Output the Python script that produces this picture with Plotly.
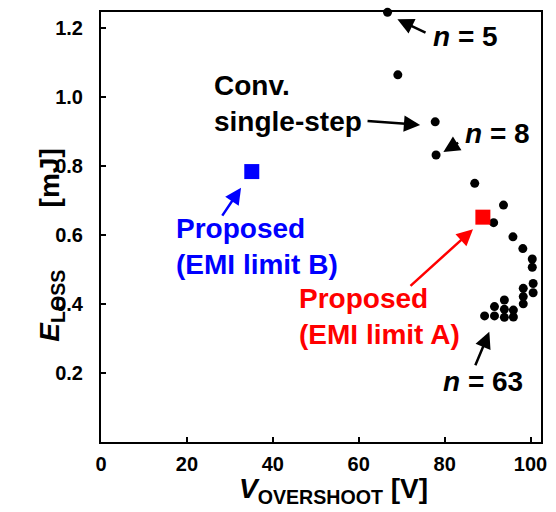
import plotly.graph_objects as go

# Conventional single-step points (V_overshoot [V], E_loss [mJ])
conv_v = [66.7, 69.1, 77.8, 78.0, 87.0, 93.7, 91.4, 95.9, 98.2, 100.4, 100.4, 102.7,
          100.6, 100.6, 98.3, 98.3, 98.3, 93.9, 93.9, 93.9, 91.6, 91.6, 89.3, 96.0, 96.0]
conv_e = [1.244, 1.063, 0.927, 0.831, 0.749, 0.686, 0.635, 0.594, 0.560, 0.530, 0.506, 0.479,
          0.459, 0.432, 0.445, 0.421, 0.400, 0.411, 0.384, 0.361, 0.392, 0.365, 0.365, 0.382, 0.362]

# Proposed points
propA_v = [88.9]
propA_e = [0.651]
propB_v = [35.1]
propB_e = [0.783]

x_ticks = [0, 20, 40, 60, 80, 100]
y_ticks = [0.2, 0.4, 0.6, 0.8, 1.0, 1.2]
y_ticktext = ["0.2", "0.4", "0.6", "0.8", "1.0", "1.2"]

FONT = "Liberation Sans, Arial, sans-serif"

fig = go.Figure()
fig.add_trace(go.Scatter(x=conv_v, y=conv_e, mode="markers",
                         marker=dict(color="black", size=9), cliponaxis=False,
                         showlegend=False, hoverinfo="skip"))
fig.add_trace(go.Scatter(x=propA_v, y=propA_e, mode="markers",
                         marker=dict(color="#ff0000", size=15, symbol="square"),
                         cliponaxis=False, showlegend=False, hoverinfo="skip"))
fig.add_trace(go.Scatter(x=propB_v, y=propB_e, mode="markers",
                         marker=dict(color="#0000ff", size=15, symbol="square"),
                         cliponaxis=False, showlegend=False, hoverinfo="skip"))

def arrow(hx, hy, tx, ty, color):
    fig.add_annotation(x=hx, y=hy, ax=tx, ay=ty, xref="x", yref="y", axref="x", ayref="y",
                       text="", showarrow=True, arrowhead=2, arrowsize=1.3,
                       arrowwidth=2.5, arrowcolor=color)

arrow(69.0, 1.224, 75.9, 1.183, "black")
arrow(74.3, 0.918, 61.7, 0.930, "black")
arrow(79.7, 0.840, 83.5, 0.869, "black")
arrow(32.6, 0.736, 28.0, 0.651, "#0000ff")
arrow(86.6, 0.616, 71.7, 0.448, "#ff0000")
arrow(90.4, 0.319, 87.0, 0.218, "black")

def label(x, y, text, color, xanchor="center", align="center"):
    fig.add_annotation(x=x, y=y, xref="x", yref="y", text=text, showarrow=False,
                       xanchor=xanchor, yanchor="middle", align=align,
                       font=dict(family=FONT, size=28, color=color, weight="bold"))

label(84.9, 1.174, "<i>n</i> = 5", "black")
label(25.9, 0.980, "Conv.<br>single-step", "black", xanchor="left", align="left")
label(92.3, 0.892, "<i>n</i> = 8", "black")
label(17.0, 0.565, "Proposed<br>(EMI limit B)", "#0000ff", xanchor="left", align="left")
label(45.6, 0.363, "Proposed<br>(EMI limit A)", "#ff0000", xanchor="left", align="left")
label(89.0, 0.174, "<i>n</i> = 63", "black")

# Axis titles (plot area spans 101..547 px horizontally, 12..442 px vertically)
fig.add_annotation(x=(337 - 101) / 446, y=(442 - 490) / 430, xref="x domain", yref="y domain",
                   showarrow=False, xanchor="center", yanchor="middle",
                   text="<i>V</i><sub>OVERSHOOT</sub> [V]",
                   font=dict(family=FONT, size=28, color="black", weight="bold"))
fig.add_annotation(x=(50 - 101) / 446, y=(442 - 245) / 430, xref="x domain", yref="y domain",
                   showarrow=False, textangle=-90, xanchor="center", yanchor="middle",
                   text="<i>E</i><sub>LOSS</sub>" + "\u00a0" * 8 + "[mJ]",
                   font=dict(family=FONT, size=28, color="black", weight="bold"))

axis_common = dict(showline=True, linecolor="black", linewidth=2, mirror=True,
                   ticks="inside", ticklen=5, tickwidth=2, tickcolor="black",
                   showgrid=False, zeroline=False,
                   tickfont=dict(family=FONT, size=20, color="black", weight="bold"))

fig.update_xaxes(range=[0, 102.43], tickvals=x_ticks, ticklabelstandoff=3, **axis_common)
fig.update_yaxes(range=[0, 1.245], tickvals=y_ticks, ticktext=y_ticktext,
                 ticklabelstandoff=12, **axis_common)

fig.update_layout(width=556, height=512, margin=dict(l=101, r=9, t=12, b=70),
                  plot_bgcolor="white", paper_bgcolor="white", hovermode=False)

# Remove the browser's default body margin so the 556x512 figure fills the window exactly
fig.write_html("out.html", config={"displayModeBar": False},
               post_script="document.body.style.margin='0';document.body.style.overflow='hidden';")
